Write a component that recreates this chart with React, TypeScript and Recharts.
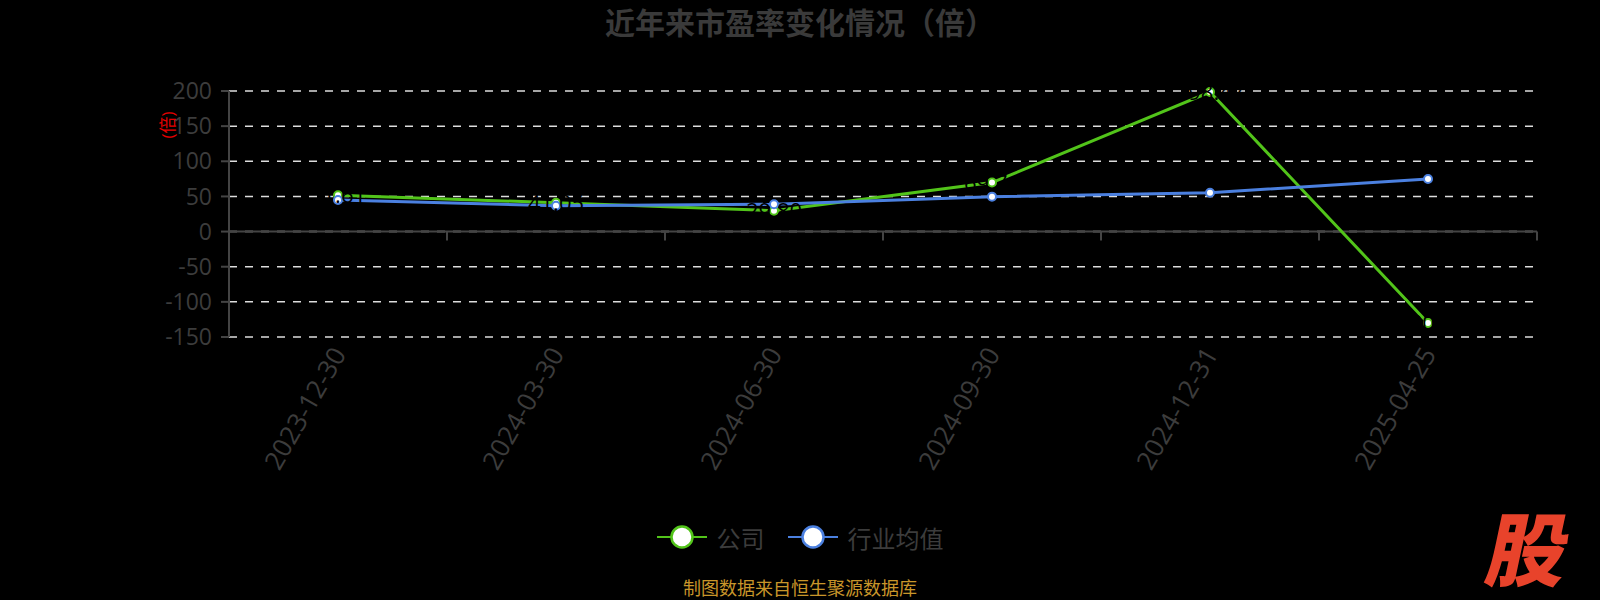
import React from 'react'
import {
  LineChart,
  Line,
  XAxis,
  YAxis,
  CartesianGrid,
  Legend,
  LabelList,
  ReferenceLine,
} from 'recharts'

const categories = ['2023-12-30', '2024-03-30', '2024-06-30', '2024-09-30', '2024-12-31', '2025-04-25']
const companyPE = [51.61, 41.05, 29.8, 69.74, 198.47, -130.09]
const industryPE = [44.9, 36.8, 38.8, 49.7, 55.3, 74.8]
const yTicks = [-150, -100, -50, 0, 50, 100, 150, 200]

const seriesNames = { company: '公司', industry: '行业均值' }
const colors = { company: '#52c41a', industry: '#4b80e0' }

const data = categories.map((date, i) => ({
  date,
  company: companyPE[i],
  industry: industryPE[i],
}))

const FONT = '"Open Sans", "Noto Sans CJK SC", sans-serif'
const TEXT = '#3c3c3c'

// zero line with ticks at the category boundaries
function ZeroAxis(props: any) {
  const { x1, x2, y1 } = props
  const n = categories.length
  const step = (x2 - x1) / n
  return (
    <g>
      <line x1={x1} x2={x2} y1={y1} y2={y1} stroke="#444" strokeWidth={2} />
      {Array.from({ length: n + 1 }, (_, i) => (
        <line key={i} x1={x1 + i * step} x2={x1 + i * step} y1={y1} y2={y1 + 9} stroke="#444" strokeWidth={2} />
      ))}
    </g>
  )
}

function LegendContent() {
  const items = [
    { key: 'company', name: seriesNames.company, color: colors.company },
    { key: 'industry', name: seriesNames.industry, color: colors.industry },
  ]
  return (
    <div style={{ display: 'flex', justifyContent: 'center', alignItems: 'center', height: 40, gap: 23 }}>
      {items.map((it) => (
        <div key={it.key} style={{ display: 'flex', alignItems: 'center', gap: 10 }}>
          <svg width={50} height={26}>
            <line x1={0} x2={50} y1={13} y2={13} stroke={it.color} strokeWidth={2} />
            <circle cx={25} cy={13} r={10.5} fill="#fff" stroke={it.color} strokeWidth={2.5} />
          </svg>
          <span style={{ fontFamily: FONT, fontSize: 24, color: TEXT }}>{it.name}</span>
        </div>
      ))}
    </div>
  )
}

const yUnitLabel = (props: any) => {
  const { viewBox } = props
  const x = viewBox.x + 18
  const y = viewBox.y + 34
  return (
    <text x={x} y={y} transform={`rotate(-90, ${x}, ${y})`} textAnchor="middle" dominantBaseline="central"
      fill="#e60000" fontSize={17} fontFamily={FONT}>
      (倍)
    </text>
  )
}

export default function App() {
  return (
    <div style={{ position: 'relative', width: 1600, height: 600, background: '#000' }}>
      <style>{'body{margin:0;background:#000}'}</style>
      <div style={{
        position: 'absolute', top: -1, left: 0, width: 1600, textAlign: 'center',
        fontFamily: FONT, fontWeight: 700, fontSize: 30, color: '#3a3a3a',
      }}>
        近年来市盈率变化情况（倍）
      </div>
      <LineChart width={1600} height={600} data={data} margin={{ top: 91, right: 63, bottom: 43, left: 149 }}>
        <CartesianGrid horizontal vertical={false} stroke="#ddd" strokeDasharray="8 8" strokeWidth={1.5} />
        <XAxis
          dataKey="date"
          padding={{ left: 109, right: 109 }}
          axisLine={false}
          tickLine={false}
          height={180}
          interval={0}
          angle={-60}
          textAnchor="end"
          tickMargin={2}
          dx={-7}
          tick={{ fill: TEXT, fontSize: 26, fontFamily: FONT }}
        />
        <YAxis
          domain={[-150, 200]}
          ticks={yTicks}
          width={80}
          axisLine={{ stroke: '#444', strokeWidth: 2 }}
          tickLine={{ stroke: '#444', strokeWidth: 2 }}
          tickSize={8}
          tickMargin={9}
          tick={{ fill: TEXT, fontSize: 23, fontFamily: FONT }}
          label={yUnitLabel}
        />
        <ReferenceLine y={0} shape={ZeroAxis} />
        <Legend verticalAlign="bottom" height={40} wrapperStyle={{ left: 0, width: 1600 }} content={<LegendContent />} />
        <Line
          type="linear"
          dataKey="company"
          name={seriesNames.company}
          stroke={colors.company}
          strokeWidth={3}
          dot={{ r: 4, fill: '#fff', stroke: colors.company, strokeWidth: 2 }}
          isAnimationActive={false}
        >
          <LabelList dataKey="company" position="top" offset={-8} fill="#000" fontSize={22} fontFamily={FONT}
            formatter={(v: any) => Number(v).toFixed(2)} />
        </Line>
        <Line
          type="linear"
          dataKey="industry"
          name={seriesNames.industry}
          stroke={colors.industry}
          strokeWidth={3}
          dot={{ r: 4, fill: '#fff', stroke: colors.industry, strokeWidth: 2 }}
          isAnimationActive={false}
        />
      </LineChart>
      <div style={{
        position: 'absolute', top: 578, left: 0, width: 1600, textAlign: 'center',
        fontFamily: FONT, fontSize: 18, color: '#c9962a', lineHeight: '20px',
      }}>
        制图数据来自恒生聚源数据库
      </div>
      <div style={{
        position: 'absolute', top: 504, left: 1490, width: 100, fontFamily: '"Noto Sans CJK SC", sans-serif',
        fontWeight: 900, fontSize: 80, color: '#e8432b', transform: 'skewX(-12deg)', lineHeight: '82px',
      }}>
        股
      </div>
    </div>
  )
}
